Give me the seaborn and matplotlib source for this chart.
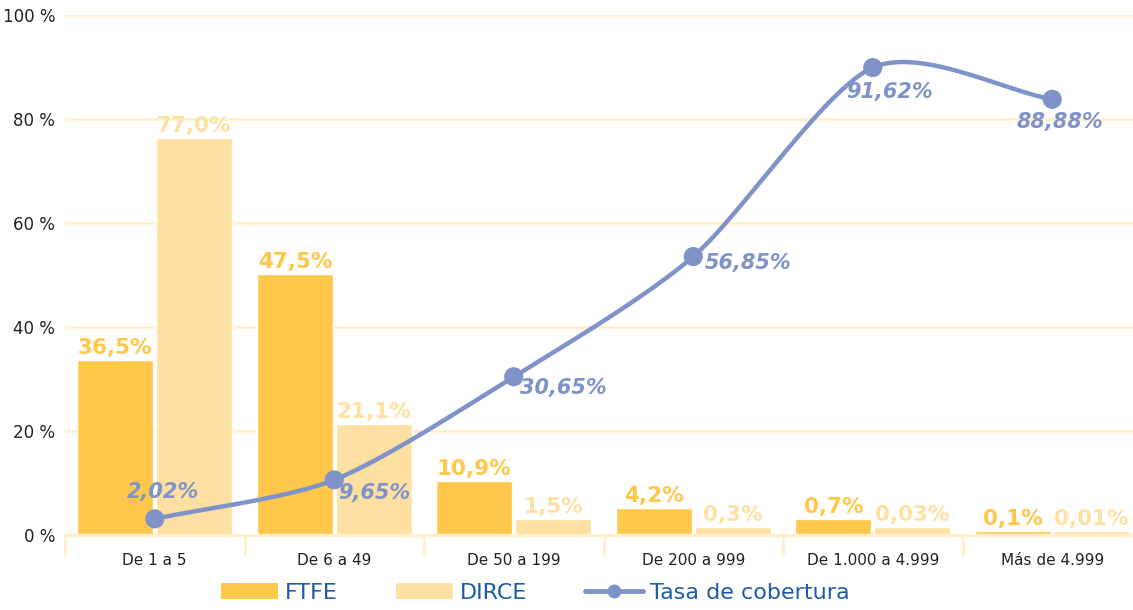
import numpy as np
import pandas as pd
import matplotlib
matplotlib.use("Agg")
import matplotlib.pyplot as plt
import seaborn as sns
from matplotlib.patches import Patch
from matplotlib.lines import Line2D

# ---- data ----
categories = ["De 1 a 5", "De 6 a 49", "De 50 a 199", "De 200 a 999",
              "De 1.000 a 4.999", "Más de 4.999"]
ftfe_height = [33.7, 50.2, 10.3, 5.1, 3.0, 0.7]
dirce_height = [76.2, 21.3, 3.0, 1.6, 1.6, 0.7]
ftfe_labels = ["36,5%", "47,5%", "10,9%", "4,2%", "0,7%", "0,1%"]
dirce_labels = ["77,0%", "21,1%", "1,5%", "0,3%", "0,03%", "0,01%"]
tasa_height = [3.1, 10.6, 30.4, 53.5, 89.8, 83.7]
tasa_labels = ["2,02%", "9,65%", "30,65%", "56,85%", "91,62%", "88,88%"]
yticks = [0, 20, 40, 60, 80, 100]
ytick_labels = ["0 %", "20 %", "40 %", "60 %", "80 %", "100 %"]

# ---- style ----
C_FTFE = "#FFC84B"
C_DIRCE = "#FFE0A3"
C_LINE = "#7F93C8"
C_GRID = "#FFEFCB"
C_LEG = "#1F5CA6"
tasa_offsets_px = [(8, 27), (40, -13), (50, -11), (55, -6), (17, -24), (8, -23)]
TENSION = 0.8

sns.set_theme(style="white")
plt.rcParams["font.family"] = ["DejaVu Sans"]

W, H = 1133, 610
fig = plt.figure(figsize=(W / 100, H / 100), dpi=100)
ax = fig.add_axes([65 / W, 75 / H, 1077 / W, 520.5 / H])

df = pd.DataFrame({
    "cat": categories * 2,
    "serie": ["FTFE"] * 6 + ["DIRCE"] * 6,
    "val": ftfe_height + dirce_height,
})
sns.barplot(data=df, x="cat", y="val", hue="serie", order=categories,
            hue_order=["FTFE", "DIRCE"], palette=[C_FTFE, C_DIRCE],
            width=0.88, gap=0.04, saturation=1, legend=False, ax=ax, zorder=2)

# bar labels
bars = ax.patches
for i, p in enumerate(bars[:12]):
    serie = i // 6
    idx = i % 6
    txt = ftfe_labels[idx] if serie == 0 else dirce_labels[idx]
    col = C_FTFE if serie == 0 else C_DIRCE
    ax.annotate(txt, (p.get_x() + p.get_width() / 2, p.get_height()),
                xytext=(0, 1.5), textcoords="offset points", ha="center",
                va="bottom", fontsize=15.5, fontweight="bold", color=col,
                zorder=3, annotation_clip=False)

# smooth line (cardinal spline through the points)
x = np.arange(len(categories), dtype=float)
y = np.array(tasa_height, dtype=float)
n = len(x)
mx = np.zeros(n)
my = np.zeros(n)
for k in range(n):
    a = max(k - 1, 0)
    b = min(k + 1, n - 1)
    mx[k] = TENSION * (x[b] - x[a]) / (b - a) 
    my[k] = TENSION * (y[b] - y[a]) / (b - a)
t = np.linspace(0, 1, 50)
h00 = 2 * t**3 - 3 * t**2 + 1
h10 = t**3 - 2 * t**2 + t
h01 = -2 * t**3 + 3 * t**2
h11 = t**3 - t**2
sx, sy = [], []
for k in range(n - 1):
    sx.extend(h00 * x[k] + h10 * mx[k] + h01 * x[k + 1] + h11 * mx[k + 1])
    sy.extend(h00 * y[k] + h10 * my[k] + h01 * y[k + 1] + h11 * my[k + 1])
ax.plot(sx, sy, color=C_LINE, lw=3.2, zorder=4, solid_capstyle="round")
sns.scatterplot(x=x, y=y, color=C_LINE, s=190, edgecolor="none", zorder=5, ax=ax)

for xi, yi, lab, (dx, dy) in zip(x, y, tasa_labels, tasa_offsets_px):
    ax.annotate(lab, (xi, yi), xytext=(dx * 0.72, dy * 0.72),
                textcoords="offset points", ha="center", va="center",
                fontsize=15, fontweight="bold", fontstyle="italic",
                color=C_LINE, zorder=6, annotation_clip=False)

# axes
ax.set_xlim(-0.5, len(categories) - 0.5)
ax.set_ylim(0, 100)
ax.set_yticks(yticks)
ax.set_yticklabels(ytick_labels)
ax.set_xlabel("")
ax.set_ylabel("")
ax.yaxis.grid(True, color=C_GRID, lw=2, zorder=0)
ax.set_axisbelow(True)
for s in ["top", "right", "left"]:
    ax.spines[s].set_visible(False)
ax.spines["bottom"].set_color(C_GRID)
ax.spines["bottom"].set_linewidth(2.5)
ax.tick_params(axis="y", length=0, labelsize=12, labelcolor="#222222", pad=7)
ax.tick_params(axis="x", which="major", length=0, labelsize=11,
               labelcolor="#222222", pad=13)
ax.set_xticks(np.arange(-0.5, len(categories) + 0.5, 1), minor=True)
ax.tick_params(axis="x", which="minor", bottom=True, length=15, width=2,
               color=C_GRID)

handles = [Patch(facecolor=C_FTFE, edgecolor="none"),
           Patch(facecolor=C_DIRCE, edgecolor="none"),
           Line2D([], [], color=C_LINE, lw=3.5, marker="o", markersize=9)]
leg = fig.legend(handles, ["FTFE", "DIRCE", "Tasa de cobertura"],
                 loc="center", bbox_to_anchor=(535 / W, 17 / H), ncol=3,
                 frameon=False, fontsize=16, handlelength=2.6,
                 handleheight=0.7, handletextpad=0.3, columnspacing=2.6,
                 borderaxespad=0)
for txt in leg.get_texts():
    txt.set_color(C_LEG)

fig.savefig("out.png", dpi=100)
